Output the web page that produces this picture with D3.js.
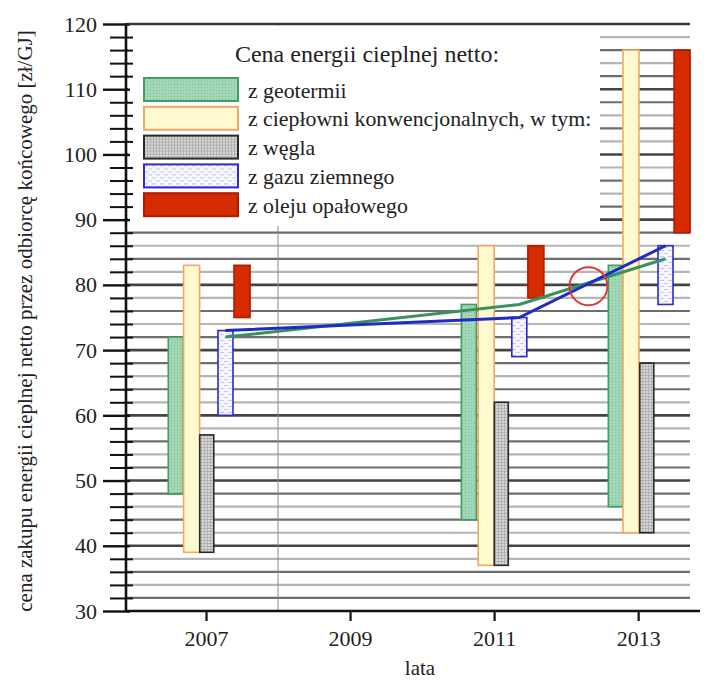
<!DOCTYPE html>
<html>
<head>
<meta charset="utf-8">
<script src="https://cdn.jsdelivr.net/npm/d3@7"></script>
<style>
  body { margin: 0; background: #fff; }
  svg { display: block; }
</style>
</head>
<body>
<svg id="chart" width="712" height="680"></svg>
<script>
// ---- data -------------------------------------------------------------
const xTickYears = [2007, 2009, 2011, 2013];
const yTickValues = [30, 40, 50, 60, 70, 80, 90, 100, 110, 120];

const legendTitle = "Cena energii cieplnej netto:";
const seriesLabels = [
  "z geotermii",
  "z ciepłowni konwencjonalnych, w tym:",
  "z węgla",
  "z gazu ziemnego",
  "z oleju opałowego"
];

// price ranges [zł/GJ] for 2007, 2011, 2013; x = position on the year axis
const geoX    = [2006.58, 2010.65, 2012.69];
const geoLow  = [48, 44, 46];
const geoHigh = [72, 77, 83];

const convX    = [2006.80, 2010.89, 2012.90];
const convLow  = [39, 37, 42];
const convHigh = [83, 86, 116];

const coalX    = [2007.01, 2011.10, 2013.12];
const coalLow  = [39, 37, 42];
const coalHigh = [57, 62, 68];

const gasX    = [2007.27, 2011.35, 2013.38];
const gasLow  = [60, 69, 77];
const gasHigh = [73, 75, 86];

const oilX    = [2007.50, 2011.58, 2013.61];
const oilLow  = [75, 78, 88];
const oilHigh = [83, 86, 116];

// trend lines through the gas-bar positions
const gasTrend = [73, 75, 86];
const geoTrend = [72, 77, 84];

// highlighted crossing point
const markYear = 2012.31;
const markValue = 79.8;

// ---- layout -----------------------------------------------------------
const SERIF = "'Liberation Serif', 'Times New Roman', serif";
const svg = d3.select("#chart").style("font-family", SERIF);
const x = d3.scaleLinear().domain([2005.9, 2013.72]).range([126.8, 690]);
const y = d3.scaleLinear().domain([30, 120]).range([611, 24]);

const defs = svg.append("defs");
// fine grid texture (geothermal)
const pg = defs.append("pattern").attr("id", "pGeo").attr("patternUnits", "userSpaceOnUse")
  .attr("width", 3).attr("height", 3);
pg.append("rect").attr("width", 3).attr("height", 3).attr("fill", "#a3d6b6");
pg.append("rect").attr("width", 1).attr("height", 1).attr("fill", "#7cc097");
// grid texture (coal)
const pc = defs.append("pattern").attr("id", "pCoal").attr("patternUnits", "userSpaceOnUse")
  .attr("width", 3).attr("height", 3);
pc.append("rect").attr("width", 3).attr("height", 3).attr("fill", "#d6d6d6");
pc.append("path").attr("d", "M0,0.5H3M0.5,0V3").attr("stroke", "#aaa").attr("stroke-width", 0.8);
// dashed texture (gas)
const pgs = defs.append("pattern").attr("id", "pGas").attr("patternUnits", "userSpaceOnUse")
  .attr("width", 8).attr("height", 6);
pgs.append("rect").attr("width", 8).attr("height", 6).attr("fill", "#f7f6ff");
pgs.append("path").attr("d", "M0,1.5H4M4,4.5H8").attr("stroke", "#c7c6f2").attr("stroke-width", 1);

const styles = [
  { fill: "url(#pGeo)",  stroke: "#3f9e62", w: 15 },
  { fill: "#fff9cf",     stroke: "#f0a868", w: 16 },
  { fill: "url(#pCoal)", stroke: "#2a2a2a", w: 14 },
  { fill: "url(#pGas)",  stroke: "#2b2bd0", w: 15 },
  { fill: "#d42b00",     stroke: "#b21a00", w: 16 }
];

// ---- horizontal grid ---------------------------------------------------
const gridVals = d3.range(32, 121, 2);
svg.append("g").selectAll("line").data(gridVals).join("line")
  .attr("x1", 127).attr("x2", 690)
  .attr("y1", d => y(d)).attr("y2", d => y(d))
  .attr("stroke", d => d % 10 === 0 ? "#444" : ((d / 2) % 2 === 1 ? "#b5b5b5" : "#6e6e6e"))
  .attr("stroke-width", d => d % 10 === 0 ? 2.6 : 2.2);

// vertical separator at 2008
svg.append("line")
  .attr("x1", x(2008)).attr("x2", x(2008))
  .attr("y1", y(120)).attr("y2", y(30))
  .attr("stroke", "#8a8a8a").attr("stroke-width", 1);

// legend background
svg.append("rect")
  .attr("x", 128).attr("y", 26).attr("width", 472).attr("height", 200)
  .attr("fill", "#fff");

// ---- bars -------------------------------------------------------------
const series = [
  { xs: geoX,  lo: geoLow,  hi: geoHigh },
  { xs: convX, lo: convLow, hi: convHigh },
  { xs: coalX, lo: coalLow, hi: coalHigh },
  { xs: gasX,  lo: gasLow,  hi: gasHigh },
  { xs: oilX,  lo: oilLow,  hi: oilHigh }
];
series.forEach((s, i) => {
  const st = styles[i];
  svg.append("g").selectAll("rect").data(s.xs).join("rect")
    .attr("x", d => x(d) - st.w / 2)
    .attr("width", st.w)
    .attr("y", (d, j) => y(s.hi[j]))
    .attr("height", (d, j) => y(s.lo[j]) - y(s.hi[j]))
    .attr("fill", st.fill)
    .attr("stroke", st.stroke)
    .attr("stroke-width", 1.6);
});

// ---- trend lines ------------------------------------------------------
const line = d3.line().x(d => x(d[0])).y(d => y(d[1]));
svg.append("path")
  .datum(gasX.map((d, i) => [d, geoTrend[i]]))
  .attr("d", line).attr("fill", "none")
  .attr("stroke", "#3a9160").attr("stroke-width", 3);
svg.append("path")
  .datum(gasX.map((d, i) => [d, gasTrend[i]]))
  .attr("d", line).attr("fill", "none")
  .attr("stroke", "#1f2cc4").attr("stroke-width", 3);

svg.append("circle")
  .attr("cx", x(markYear)).attr("cy", y(markValue)).attr("r", 19)
  .attr("fill", "none").attr("stroke", "#d83a3a").attr("stroke-width", 2);

// ---- axes -------------------------------------------------------------
const yMajor = svg.append("g").attr("transform", "translate(126,0)")
  .call(d3.axisLeft(y).tickValues(yTickValues).tickSize(23).tickPadding(6).tickFormat(d3.format("d")));
yMajor.attr("font-family", null).attr("font-size", null);
yMajor.select(".domain").remove();
yMajor.selectAll(".tick line").attr("x1", 4).attr("stroke", "#111").attr("stroke-width", 2.4);
yMajor.selectAll(".tick text").attr("fill", "#222")
  .style("font-family", SERIF).style("font-size", "22px");

const yMinor = svg.append("g").attr("transform", "translate(126,0)")
  .call(d3.axisLeft(y).tickValues(d3.range(30, 121, 2).filter(d => d % 10 !== 0)).tickSize(16).tickFormat(""));
yMinor.select(".domain").remove();
yMinor.selectAll(".tick line").attr("x1", 7).attr("stroke", "#111").attr("stroke-width", 2);

svg.append("line").attr("x1", 126).attr("x2", 126).attr("y1", y(120) - 1).attr("y2", y(30) + 1)
  .attr("stroke", "#111").attr("stroke-width", 2.6);

const xAxis = svg.append("g").attr("transform", "translate(0,611)")
  .call(d3.axisBottom(x).tickValues(xTickYears).tickSize(10).tickPadding(9).tickFormat(d3.format("d")));
xAxis.attr("font-family", null).attr("font-size", null);
xAxis.select(".domain").remove();
xAxis.selectAll(".tick line").attr("stroke", "#111").attr("stroke-width", 2.2);
xAxis.selectAll(".tick text").attr("fill", "#222")
  .style("font-family", SERIF).style("font-size", "22px");

svg.append("line").attr("x1", 125).attr("x2", 700).attr("y1", 611).attr("y2", 611)
  .attr("stroke", "#111").attr("stroke-width", 2.6);
svg.append("line").attr("x1", 126).attr("x2", 690).attr("y1", y(120)).attr("y2", y(120))
  .attr("stroke", "#333").attr("stroke-width", 1.6);

function label(sel, size) {
  return sel.style("font-family", SERIF).style("font-size", size + "px").attr("fill", "#222");
}

label(svg.append("text").attr("x", 420).attr("y", 675).attr("text-anchor", "middle"), 21)
  .text("lata");
label(svg.append("text")
  .attr("transform", "translate(32,321) rotate(-90)")
  .attr("text-anchor", "middle"), 21)
  .text("cena zakupu energii cieplnej netto przez odbiorcę końcowego [zł/GJ]");

// ---- legend -----------------------------------------------------------
label(svg.append("text").attr("x", 367).attr("y", 62).attr("text-anchor", "middle"), 24)
  .text(legendTitle);
const leg = svg.append("g").selectAll("g").data(seriesLabels).join("g")
  .attr("transform", (d, i) => `translate(144,${78 + i * 28.8})`);
leg.append("rect").attr("width", 94).attr("height", 23)
  .attr("fill", (d, i) => styles[i].fill)
  .attr("stroke", (d, i) => styles[i].stroke).attr("stroke-width", 2);
label(leg.append("text").attr("x", 104).attr("y", 12).attr("dy", "0.35em"), 21.8)
  .text(d => d);
</script>
</body>
</html>
